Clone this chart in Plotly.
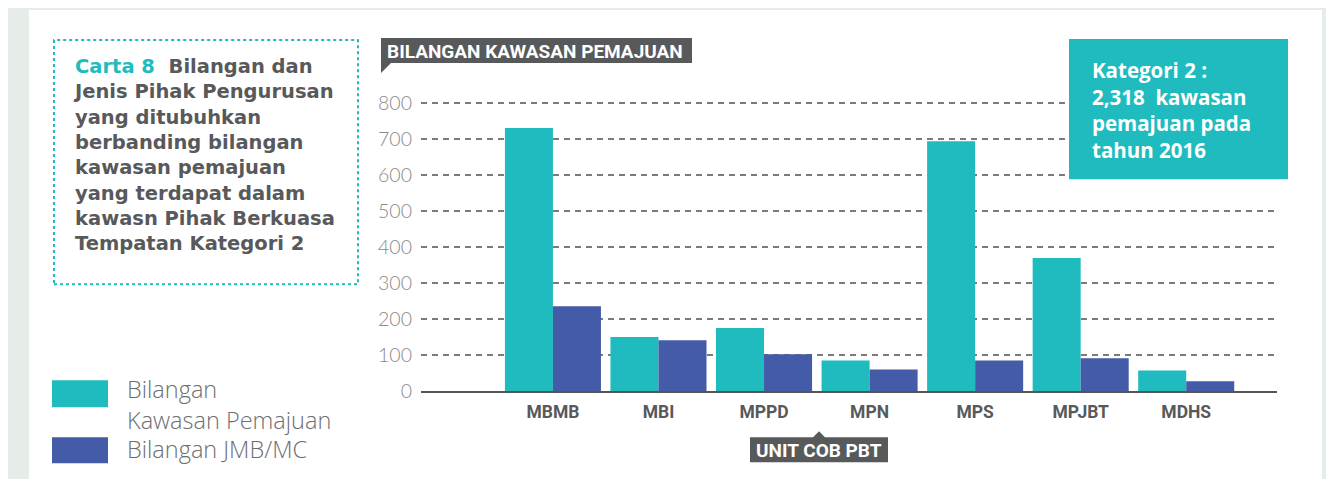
import plotly.graph_objects as go

# ---------------- data ----------------
categories = ["MBMB", "MBI", "MPPD", "MPN", "MPS", "MPJBT", "MDHS"]
kawasan_pemajuan = [730, 150, 175, 85, 693, 369, 57]
jmb_mc = [235, 141, 102, 60, 85, 91, 27]
y_ticks = [0, 100, 200, 300, 400, 500, 600, 700, 800]

series_names = ["Bilangan Kawasan Pemajuan", "Bilangan JMB/MC"]
title_lines = [
    "<span style='color:#1FBBBE'>Carta 8</span>  Bilangan dan",
    "Jenis Pihak Pengurusan",
    "yang ditubuhkan",
    "berbanding bilangan",
    "kawasan pemajuan",
    "yang terdapat dalam",
    "kawasn Pihak Berkuasa",
    "Tempatan Kategori 2",
]
info_lines = ["Kategori 2 :", "2,318  kawasan", "pemajuan pada", "tahun 2016"]
legend_lines = ["Bilangan", "Kawasan Pemajuan"]

TEAL = "#1FBBBE"
BLUE = "#445BA7"
DARK = "#58595B"

# page body has an 8px margin: the figure is shifted by OFF in the window
OFF = 8
W, H = 1334 - OFF, 479 - OFF
Y_MAX = 805
plot_left, plot_right = 421 - OFF, 1277 - OFF
zero_y = 390.7 - OFF
scale = 0.36  # px per unit
top_y = zero_y - Y_MAX * scale
L, R = plot_left, W - plot_right
T, B = top_y, H - zero_y
PW, PH = W - L - R, H - T - B


def px(x):
    return (x - OFF - L) / PW


def py(y):
    return (H - B - (y - OFF)) / PH


fig = go.Figure()
fig.add_trace(go.Bar(x=categories, y=kawasan_pemajuan, name=series_names[0],
                     marker=dict(color=TEAL, line=dict(width=0))))
fig.add_trace(go.Bar(x=categories, y=jmb_mc, name=series_names[1],
                     marker=dict(color=BLUE, line=dict(width=0))))

shapes = []
# white panel
shapes.append(dict(type="rect", xref="paper", yref="paper", layer="below",
                   x0=px(29), x1=px(1322), y0=py(500), y1=py(10),
                   fillcolor="white", line=dict(width=0)))
# dotted title frame
shapes.append(dict(type="rect", xref="paper", yref="paper",
                   x0=px(54), x1=px(358), y0=py(284), y1=py(40),
                   fillcolor="rgba(0,0,0,0)",
                   line=dict(color=TEAL, width=2, dash="dot")))
# header label box with tail
shapes.append(dict(type="path", xref="paper", yref="paper",
                   path=(f"M {px(381)},{py(38)} L {px(692)},{py(38)} L {px(692)},{py(63)} "
                         f"L {px(391)},{py(63)} L {px(381)},{py(73)} Z"),
                   fillcolor=DARK, line=dict(width=0)))
# unit label box with pointer
shapes.append(dict(type="path", xref="paper", yref="paper",
                   path=(f"M {px(750)},{py(437)} L {px(813)},{py(437)} L {px(819)},{py(431)} "
                         f"L {px(825)},{py(437)} L {px(888)},{py(437)} L {px(888)},{py(462)} "
                         f"L {px(750)},{py(462)} Z"),
                   fillcolor=DARK, line=dict(width=0)))
# info box
shapes.append(dict(type="rect", xref="paper", yref="paper",
                   x0=px(1069), x1=px(1288), y0=py(179), y1=py(39),
                   fillcolor=TEAL, line=dict(width=0)))
# legend swatches
shapes.append(dict(type="rect", xref="paper", yref="paper",
                   x0=px(52), x1=px(108), y0=py(407), y1=py(380),
                   fillcolor=TEAL, line=dict(width=0)))
shapes.append(dict(type="rect", xref="paper", yref="paper",
                   x0=px(52), x1=px(108), y0=py(463), y1=py(437),
                   fillcolor=BLUE, line=dict(width=0)))

annotations = []
annotations.append(dict(xref="paper", yref="paper", x=px(71), y=py(154.6),
                        xanchor="left", yanchor="middle", align="left", showarrow=False,
                        text="<br>".join(f"<b>{t}</b>" for t in title_lines),
                        font=dict(family="DejaVu Sans", size=19.5, color=DARK)))
annotations.append(dict(xref="paper", yref="paper", x=px(1090), y=py(110.2),
                        xanchor="left", yanchor="middle", align="left", showarrow=False,
                        text="<br>".join(f"<b>{t}</b>" for t in info_lines),
                        font=dict(family="Open Sans", size=20.5, color="white")))
annotations.append(dict(xref="paper", yref="paper", x=px(385), y=py(51),
                        xanchor="left", yanchor="middle", showarrow=False,
                        text="<b>BILANGAN KAWASAN PEMAJUAN</b>",
                        font=dict(family="Roboto", size=19, color="white")))
annotations.append(dict(xref="paper", yref="paper", x=px(819), y=py(450),
                        xanchor="center", yanchor="middle", showarrow=False,
                        text="<b>UNIT COB PBT</b>",
                        font=dict(family="Roboto", size=19, color="white")))
annotations.append(dict(xref="paper", yref="paper", x=px(125), y=py(404),
                        xanchor="left", yanchor="middle", align="left", showarrow=False,
                        text="<br>".join(legend_lines),
                        font=dict(family="Open Sans", size=23.5, color="#6D6E71", weight=300)))
annotations.append(dict(xref="paper", yref="paper", x=px(125), y=py(449),
                        xanchor="left", yanchor="middle", align="left", showarrow=False,
                        text=series_names[1],
                        font=dict(family="Open Sans", size=23.5, color="#6D6E71", weight=300)))

fig.update_layout(
    width=W, height=H,
    margin=dict(l=L, r=R, t=T, b=B, pad=0, autoexpand=False),
    paper_bgcolor="#E6EDE8",
    plot_bgcolor="rgba(0,0,0,0)",
    barmode="group", bargap=0.09, bargroupgap=0,
    showlegend=False,
    shapes=shapes,
    annotations=annotations,
    xaxis=dict(range=[-1.25, 6.86], showgrid=False, showline=True,
               linecolor="#555555", linewidth=2, ticks="", fixedrange=True,
               tickfont=dict(family="Roboto", size=17.5, color=DARK, weight="bold"),
               ticklabelstandoff=4),
    yaxis=dict(range=[0, Y_MAX], tickvals=y_ticks, showgrid=True,
               gridcolor="#7A7A7A", gridwidth=1.5, griddash="6px,5px",
               zeroline=False, showline=False, ticks="",
               tickfont=dict(family="Lato", size=19.5, color="#8A8A8A", weight=300),
               ticklabelstandoff=8),
)

fig.write_html("out.html")
